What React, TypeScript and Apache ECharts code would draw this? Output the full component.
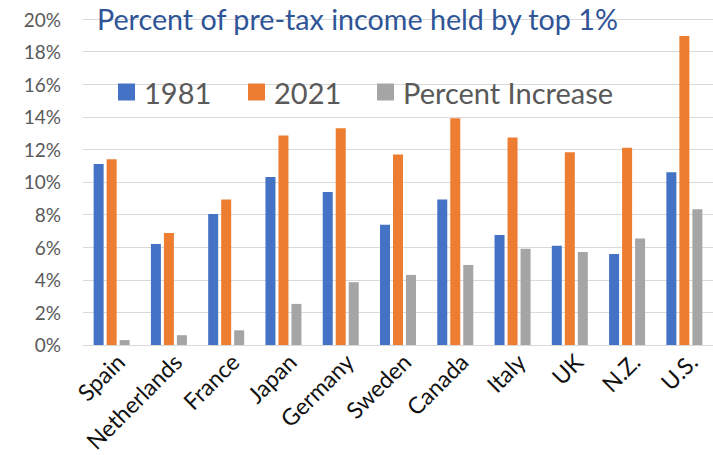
import React, { useEffect, useRef } from "react";
import * as echarts from "echarts";

const categories = ["Spain", "Netherlands", "France", "Japan", "Germany", "Sweden", "Canada", "Italy", "UK", "N.Z.", "U.S."];
const values1981 = [11.1, 6.2, 8.03, 10.3, 9.38, 7.38, 8.93, 6.75, 6.09, 5.58, 10.6];
const values2021 = [11.4, 6.87, 8.93, 12.85, 13.3, 11.68, 13.91, 12.73, 11.83, 12.1, 18.95];
const percentIncrease = [0.3, 0.6, 0.9, 2.52, 3.85, 4.3, 4.91, 5.91, 5.71, 6.54, 8.32];
const yTicks = [0, 2, 4, 6, 8, 10, 12, 14, 16, 18, 20];

const FONT = "Lato";

export default function App() {
  const ref = useRef<HTMLDivElement>(null);
  useEffect(() => {
    document.body.style.margin = "0";
    const chart = echarts.init(ref.current!, null, { renderer: "svg" });
    const legendCommon = {
      top: 77,
      padding: 0,
      itemWidth: 17,
      itemHeight: 17,
      icon: "rect",
      textStyle: {
        fontFamily: FONT,
        fontSize: 29,
        color: "#595959",
        lineHeight: 30,
        padding: [0, 0, 0, 4],
      },
    };
    chart.setOption({
      animation: false,
      title: {
        text: "Percent of pre-tax income held by top 1%",
        left: 97,
        top: 4,
        padding: 0,
        textStyle: { fontFamily: FONT, fontSize: 28.7, fontWeight: "normal", color: "#2F5597" },
      },
      legend: [
        { ...legendCommon, left: 118, data: ["1981"] },
        { ...legendCommon, left: 248, data: ["2021"] },
        { ...legendCommon, left: 377, data: ["Percent Increase"] },
      ],
      grid: { left: 83, right: 0, top: 19, bottom: 110, containLabel: false },
      xAxis: {
        type: "category",
        data: categories,
        axisLine: { lineStyle: { color: "#D9D9D9", width: 1 } },
        axisTick: { show: false },
        axisLabel: {
          interval: 0,
          rotate: 45,
          fontFamily: FONT,
          fontSize: 23,
          color: "#111",
          margin: 21,
          padding: [0, -12, 0, 0],
        },
      },
      yAxis: {
        type: "value",
        min: yTicks[0],
        max: yTicks[yTicks.length - 1],
        interval: 2,
        axisLine: { show: false },
        axisTick: { show: false },
        splitLine: { lineStyle: { color: "#D9D9D9", width: 1 } },
        axisLabel: {
          formatter: "{value}%",
          fontFamily: FONT,
          fontSize: 19,
          color: "#595959",
          margin: 22,
        },
      },
      series: [
        { name: "1981", type: "bar", data: values1981, barWidth: 10, barGap: "30%", itemStyle: { color: "#4472C4" } },
        { name: "2021", type: "bar", data: values2021, barWidth: 10, barGap: "30%", itemStyle: { color: "#ED7D31" } },
        { name: "Percent Increase", type: "bar", data: percentIncrease, barWidth: 10, barGap: "30%", itemStyle: { color: "#A5A5A5" } },
      ],
    });
    return () => chart.dispose();
  }, []);
  return <div ref={ref} style={{ width: 713, height: 455 }} />;
}
